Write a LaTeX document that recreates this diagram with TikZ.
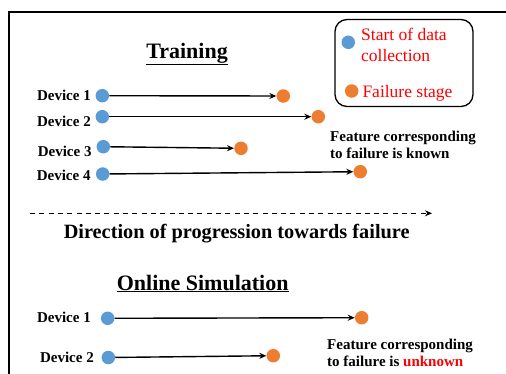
\documentclass[tikz,border=0pt]{standalone}
\usepackage{fontspec}
\setmainfont{Liberation Serif}
\usepackage{xcolor}
\usetikzlibrary{positioning, arrows.meta}
\definecolor{startblue}{HTML}{5B9BD5}
\definecolor{failorange}{HTML}{ED7D31}
\tikzset{
>={Stealth[length=7pt, width=6pt]}, % filled arrow heads
dot/.style={circle, inner sep=0pt, minimum size=13.5pt}, % the round markers
startdot/.style={dot, fill=startblue},
faildot/.style={dot, fill=failorange},
devlabel/.style={anchor=base east, inner sep=0pt, font=\bfseries\fontsize{15}{17}\selectfont},
timeline/.style={->, line width=1.4pt},
heading/.style={anchor=base, inner sep=0pt, font=\bfseries\fontsize{22}{26}\selectfont},
note/.style={anchor=base west, inner sep=0pt, align=left, font=\bfseries\fontsize{15}{16.8}\selectfont},
legendtext/.style={anchor=base west, inner sep=0pt, text=red, font=\fontsize{17.5}{21}\selectfont},
}

\begin{document}
\begin{tikzpicture}[x=1pt, y=-1pt]
        \useasboundingbox (0,0) rectangle (506,373);
        % outer frame
        \draw[line width=1.4pt] (9,380) -- (9,12) -- (512,12);

        % legend
        \node[draw, rounded corners=12pt, line width=1.3pt, minimum width=138pt, minimum height=87pt] (legend) at (404,63) {};
        \node[startdot] (legstart) at (348.3,42.3) {};
        \node[faildot] (legfail) at (351.7,91) {};
        \node[legendtext] (legstarttext) at (361,40.7) {Start of data};
        \node[legendtext] (legcollect) at (361,61.7) {collection};
        \node[legendtext] (legfailtext) at (362.3,97.3) {Failure stage};

        % training part
        \node[heading] (train) at (187,58.3) {\underline{Training}};
        \node[devlabel] (tl1) at (91,100.7) {Device 1};
        \node[devlabel] (tl2) at (91,126) {Device 2};
        \node[devlabel] (tl3) at (91.7,156) {Device 3};
        \node[devlabel] (tl4) at (90.7,180.3) {Device 4};
        \node[startdot] (ts1) at (102.3,95.7) {};
        \node[startdot] (ts2) at (102.3,116.7) {};
        \node[startdot] (ts3) at (103.3,146.7) {};
        \node[startdot] (ts4) at (102.7,174) {};
        \node[faildot] (tf1) at (283.3,96) {};
        \node[faildot] (tf2) at (318.3,116.7) {};
        \node[faildot] (tf3) at (241,148.3) {};
        \node[faildot] (tf4) at (360.3,171.7) {};
        \node[note] (known) at (330,158) {Feature corresponding\\to failure is known};

        % direction
        \coordinate (dirstart) at (30,213.3);
        \coordinate (dirend) at (432,213.3);
        \node[heading, font=\bfseries\fontsize{20.3}{24}\selectfont] (dirtext) at (236.7,238) {Direction of progression towards failure};

        % online part
        \node[heading] (online) at (202.7,290) {\underline{Online Simulation}};
        \node[devlabel] (ol1) at (91,322.7) {Device 1};
        \node[devlabel] (ol2) at (94,362.7) {Device 2};
        \node[startdot] (os1) at (107.7,318.3) {};
        \node[startdot] (os2) at (108.3,357.5) {};
        \node[faildot] (of1) at (361.7,317.7) {};
        \node[faildot] (of2) at (273.3,355.7) {};
        \node[note] (unknown) at (327,366) {Feature corresponding\\to failure is \textcolor{red}{unknown}};

        \draw[timeline] (ts1) -- (tf1);
        \draw[timeline] (ts2) -- (tf2);
        \draw[timeline] (ts3) -- (tf3);
        \draw[timeline] (ts4) -- (tf4);
        \draw[timeline] (os1) -- (of1);
        \draw[timeline] (os2) -- (of2);
        \draw[->, line width=1.3pt, dash pattern=on 5pt off 4.3pt] (dirstart) -- (dirend);
\end{tikzpicture}
\end{document}
